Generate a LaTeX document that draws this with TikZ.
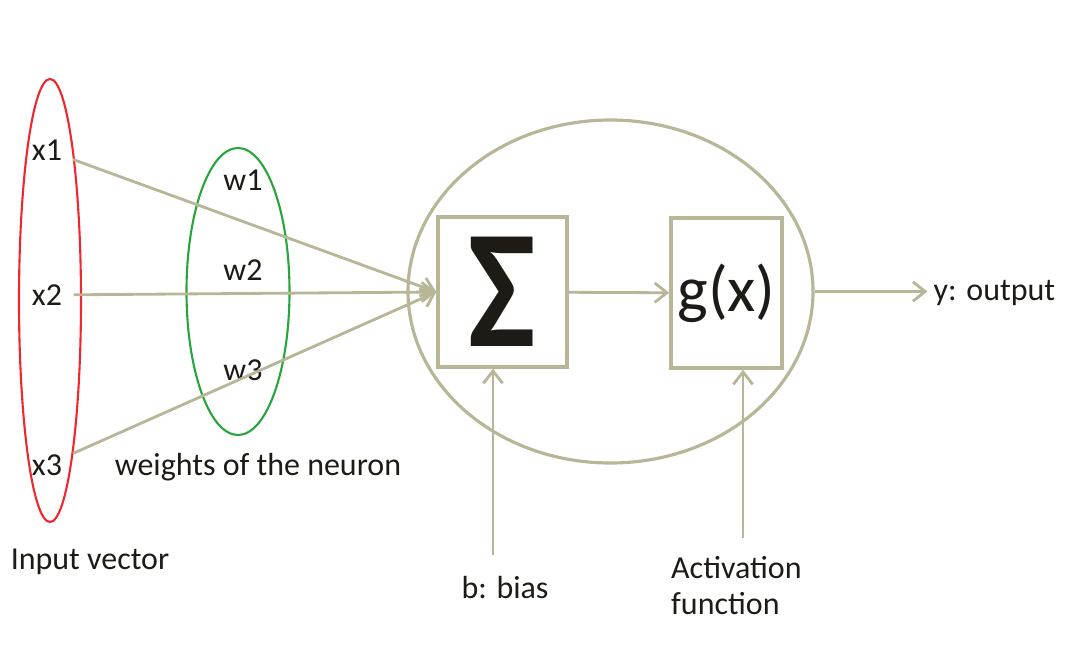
\documentclass[tikz,border=0pt]{standalone}
\usepackage{fontspec}
\usepackage{graphicx}
\setmainfont{Carlito}
\usepackage{tikz}
\usetikzlibrary{arrows.meta, shapes.geometric, positioning}
\definecolor{linkcolor}{RGB}{184,182,150}
\definecolor{inputcolor}{RGB}{240,40,45}
\definecolor{weightcolor}{RGB}{40,165,60}
\definecolor{labelcolor}{RGB}{30,27,22}

\begin{document}
\begin{tikzpicture}[
  font=\fontsize{18.2}{20.5}\selectfont,
  every node/.style={text=labelcolor},
  groupoval/.style={
    draw, ellipse, line width=1.2pt, inner sep=0pt
  },
  unitbox/.style={
    draw=linkcolor, line width=2pt,
    minimum height=3.0cm, inner sep=0pt
  },
  link/.style={-{Straight Barb[length=7pt, width=11pt]}, linkcolor, line width=1.6pt},
]

\useasboundingbox (0,0) rectangle (21.54,-13.28);

%% ─── Input vector and weights ────────────────────────────────────────────────

\node[groupoval, draw=inputcolor, minimum width=1.24cm, minimum height=8.86cm]
  (invec) at (1.0,-6.01) {};
\node[groupoval, draw=weightcolor, minimum width=2.06cm, minimum height=5.74cm]
  (wts) at (4.76,-5.83) {};

\node (x1) at (0.94,-3.0)  {x1};
\node (x2) at (0.94,-5.9)  {x2};
\node (x3) at (0.94,-9.3)  {x3};

\node (w1) at (4.86,-3.6) {w1};
\node (w2) at (4.86,-5.4) {w2};
\node (w3) at (4.86,-7.4) {w3};

\node (inlabel) at (1.8,-11.24) {Input vector};
\node (wlabel)  at (5.16,-9.34) {weights of the neuron};

%% ─── Neuron: sum and activation ──────────────────────────────────────────────

\node[groupoval, draw=linkcolor, line width=1.8pt, minimum width=8.1cm, minimum height=6.86cm]
  (neuron) at (12.21,-5.83) {};

\node[unitbox, minimum width=2.58cm] (sig) at (10.05,-5.84)
  {\raisebox{-0.45cm}{\fontsize{96}{96}\selectfont\bfseries\scalebox{0.85}[1]{Σ}}};
\node[unitbox, minimum width=2.22cm] (act) at (14.53,-5.86)
  {\fontsize{37}{37}\selectfont g(x)};

\node[anchor=west] (out) at (18.55,-5.86) {y: output};

%% ─── Bias and activation labels ──────────────────────────────────────────────

\node (bias) at (10.1,-11.76) {b: bias};
\node[anchor=west, align=left] (actlabel) at (13.3,-11.72) {Activation\\function};

\coordinate (biasfoot) at (9.86,-11.1);
\coordinate (actfoot)  at (14.86,-10.76);

%% ─── Connectors ──────────────────────────────────────────────────────────────

\foreach \nd in {x1, x2, x3}{
  \draw[link, shorten <=3pt] (\nd) -- (sig.west);
}
\draw[link] (sig) -- (act);
\draw[link] (neuron.east) -- (neuron.east -| out.west);
\draw[link] (biasfoot) -- (biasfoot |- sig.south);
\draw[link] (actfoot) -- (actfoot |- act.south);

\end{tikzpicture}
\end{document}
